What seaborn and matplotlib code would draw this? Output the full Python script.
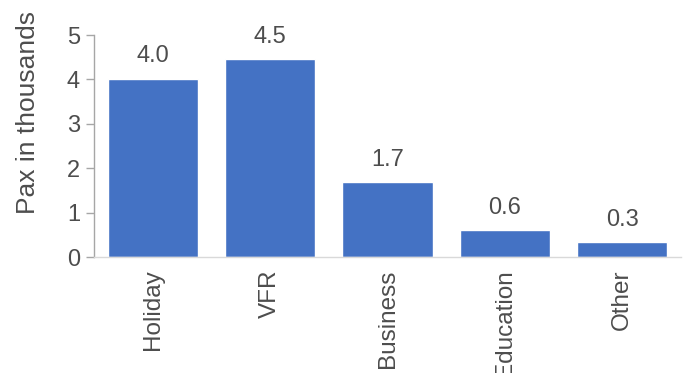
import matplotlib
matplotlib.use("Agg")
import matplotlib.pyplot as plt
import seaborn as sns
import pandas as pd

categories = ["Holiday", "VFR", "Business", "Education", "Other"]
values = [4.02, 4.46, 1.69, 0.61, 0.33]
labels = ["4.0", "4.5", "1.7", "0.6", "0.3"]

sns.set_theme(style="white")
plt.rcParams['font.family'] = ['Liberation Sans', 'DejaVu Sans']

df = pd.DataFrame({"cat": categories, "val": values})
fig = plt.figure(figsize=(6.88, 3.73), dpi=100)
ax = fig.add_axes([94/688, 1-257/373, (681-94)/688, (257-35)/373])
sns.barplot(data=df, x="cat", y="val", color="#4472C4", width=0.77,
            saturation=1, ax=ax)
ax.set_ylim(0, 5)
ax.set_xlim(-0.5, 4.5)
ax.set_yticks(range(6))
txtc = "#4d4d4d"
fs = 17
ax.tick_params(axis="y", labelsize=fs, colors="#A6A6A6", labelcolor=txtc,
               length=6, width=1, direction="out", left=True, pad=4)
ax.tick_params(axis="x", labelsize=17.5, labelcolor=txtc, length=0, pad=9,
               rotation=90)
for lab in ax.get_xticklabels():
    lab.set_va("top")
ax.set_xlabel("")
ax.set_ylabel("Pax in thousands", fontsize=19, color=txtc)
ax.yaxis.set_label_coords(-0.092, 0.653)
for s in ["top", "right"]:
    ax.spines[s].set_visible(False)
ax.spines["left"].set_color("#A6A6A6")
ax.spines["bottom"].set_color("#D9D9D9")
ax.spines["left"].set_linewidth(1)
ax.spines["bottom"].set_linewidth(1)
for c in ax.containers:
    ax.bar_label(c, labels=labels, padding=8, fontsize=fs, color=txtc)
fig.savefig("out.png", dpi=100)
